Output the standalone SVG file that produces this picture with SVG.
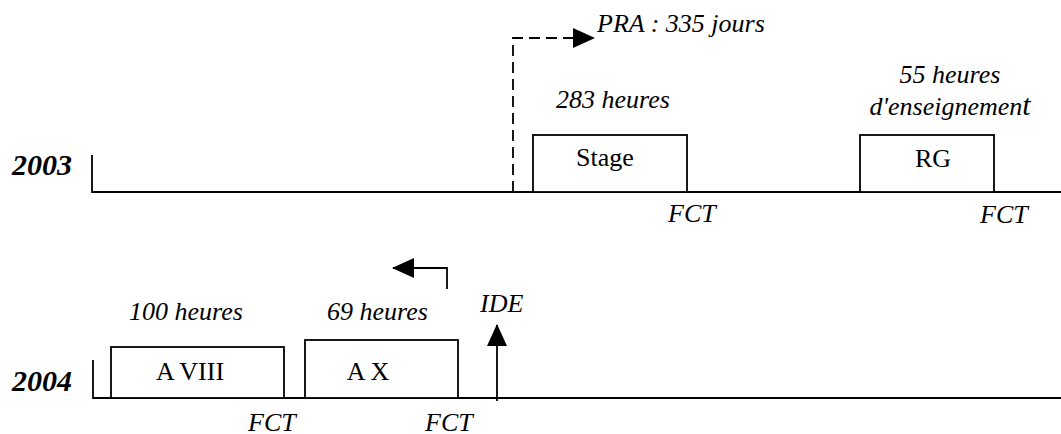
<svg xmlns="http://www.w3.org/2000/svg" width="1061" height="434" viewBox="0 0 1061 434">
<style>
.ln{stroke:#000;stroke-width:1.8;fill:none}
.box{stroke:#000;stroke-width:1.8;fill:#fff}
text{font-family:'Liberation Serif','Times New Roman',serif;fill:#000}
.it{font-style:italic;font-size:26px}
.rm{font-size:26px}
.yr{font-style:italic;font-weight:bold;font-size:30px}
</style>
<defs>
<marker id="ahb" markerWidth="22" markerHeight="20" refX="21" refY="10" orient="auto" markerUnits="userSpaceOnUse">
<path d="M0,0 L22,10 L0,20 Z" fill="#000"/>
</marker>
</defs>

<g id="row2003">
<text class="yr" x="12" y="175">2003</text>
<path class="ln" d="M92,155 V192 H1061"/>
</g>
<g id="row2004">
<text class="yr" x="12" y="391">2004</text>
<path class="ln" d="M93,360 V398 H1061"/>
</g>

<g id="stage">
<rect class="box" x="533" y="135" width="154" height="57"/>
<text class="rm" x="605" y="166" text-anchor="middle">Stage</text>
<text class="it" x="556" y="108">283 heures</text>
<text class="it" x="668" y="222">FCT</text>
</g>

<g id="rg">
<rect class="box" x="860" y="135" width="134" height="57"/>
<text class="rm" x="933" y="167" text-anchor="middle">RG</text>
<text class="it" x="950" y="83" text-anchor="middle">55 heures</text>
<text class="it" x="950" y="115" text-anchor="middle">d'enseignemen<tspan font-size="30">t</tspan></text>
<text class="it" x="980" y="223">FCT</text>
</g>

<g id="aviii">
<rect class="box" x="111" y="347" width="173" height="51"/>
<text class="rm" x="190" y="380" text-anchor="middle">A VIII</text>
<text class="it" x="129" y="320">100 heures</text>
<text class="it" x="248" y="431">FCT</text>
</g>

<g id="ax">
<rect class="box" x="305" y="340" width="153" height="58"/>
<text class="rm" x="368" y="380" text-anchor="middle">A X</text>
<text class="it" x="327" y="320">69 heures</text>
<text class="it" x="425" y="431">FCT</text>
</g>

<g id="pra">
<text class="it" x="597" y="32">PRA : 335 jours</text>
</g>
<g id="ide">
<text class="it" x="480" y="312">IDE</text>
</g>

<g id="connectors">
<path class="ln" d="M513,192 V38 H594" stroke-dasharray="11,6" marker-end="url(#ahb)"/>
<path class="ln" d="M447,289 V268 H393" marker-end="url(#ahb)"/>
<path class="ln" d="M497,401 V325" marker-end="url(#ahb)"/>
</g>
</svg>
